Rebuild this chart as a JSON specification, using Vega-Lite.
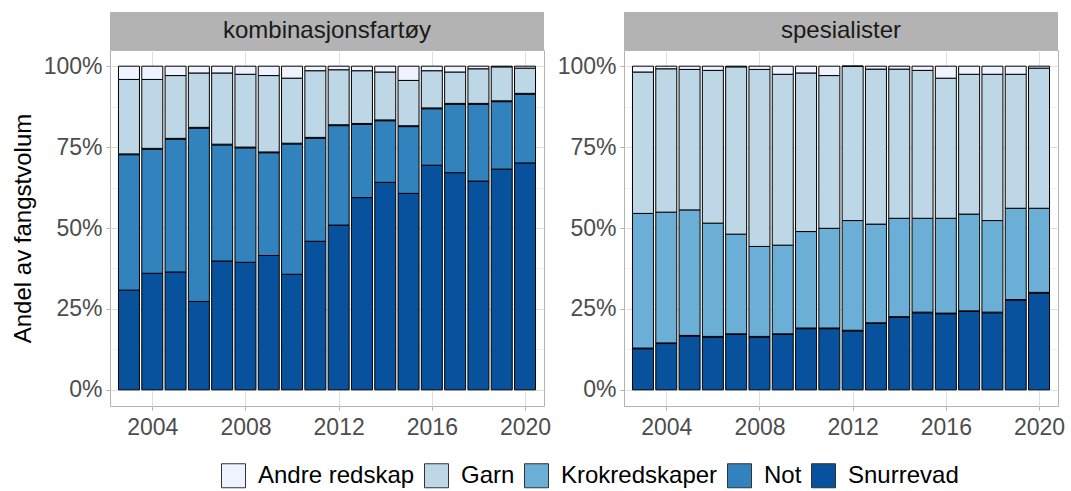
{
  "$schema": "https://vega.github.io/schema/vega-lite/v6.json",
  "padding": {"left": 10, "top": 12, "right": 14, "bottom": 2},
  "background": "white",
  "datasets": {
    "fangst": [
      {"panel":"kombinasjonsfartøy","aar":2003,"redskap":"Snurrevad","andel":30.8},{"panel":"kombinasjonsfartøy","aar":2003,"redskap":"Krokredskaper","andel":0.3},{"panel":"kombinasjonsfartøy","aar":2003,"redskap":"Not","andel":41.8},{"panel":"kombinasjonsfartøy","aar":2003,"redskap":"Garn","andel":23.0},{"panel":"kombinasjonsfartøy","aar":2003,"redskap":"Andre redskap","andel":4.1},
      {"panel":"kombinasjonsfartøy","aar":2004,"redskap":"Snurrevad","andel":36.0},{"panel":"kombinasjonsfartøy","aar":2004,"redskap":"Krokredskaper","andel":0.3},{"panel":"kombinasjonsfartøy","aar":2004,"redskap":"Not","andel":38.3},{"panel":"kombinasjonsfartøy","aar":2004,"redskap":"Garn","andel":21.3},{"panel":"kombinasjonsfartøy","aar":2004,"redskap":"Andre redskap","andel":4.1},
      {"panel":"kombinasjonsfartøy","aar":2005,"redskap":"Snurrevad","andel":36.4},{"panel":"kombinasjonsfartøy","aar":2005,"redskap":"Krokredskaper","andel":0.3},{"panel":"kombinasjonsfartøy","aar":2005,"redskap":"Not","andel":41.0},{"panel":"kombinasjonsfartøy","aar":2005,"redskap":"Garn","andel":19.4},{"panel":"kombinasjonsfartøy","aar":2005,"redskap":"Andre redskap","andel":2.9},
      {"panel":"kombinasjonsfartøy","aar":2006,"redskap":"Snurrevad","andel":27.3},{"panel":"kombinasjonsfartøy","aar":2006,"redskap":"Krokredskaper","andel":0.3},{"panel":"kombinasjonsfartøy","aar":2006,"redskap":"Not","andel":53.5},{"panel":"kombinasjonsfartøy","aar":2006,"redskap":"Garn","andel":16.8},{"panel":"kombinasjonsfartøy","aar":2006,"redskap":"Andre redskap","andel":2.1},
      {"panel":"kombinasjonsfartøy","aar":2007,"redskap":"Snurrevad","andel":39.8},{"panel":"kombinasjonsfartøy","aar":2007,"redskap":"Krokredskaper","andel":0.3},{"panel":"kombinasjonsfartøy","aar":2007,"redskap":"Not","andel":35.8},{"panel":"kombinasjonsfartøy","aar":2007,"redskap":"Garn","andel":22.0},{"panel":"kombinasjonsfartøy","aar":2007,"redskap":"Andre redskap","andel":2.1},
      {"panel":"kombinasjonsfartøy","aar":2008,"redskap":"Snurrevad","andel":39.4},{"panel":"kombinasjonsfartøy","aar":2008,"redskap":"Krokredskaper","andel":0.3},{"panel":"kombinasjonsfartøy","aar":2008,"redskap":"Not","andel":35.3},{"panel":"kombinasjonsfartøy","aar":2008,"redskap":"Garn","andel":22.5},{"panel":"kombinasjonsfartøy","aar":2008,"redskap":"Andre redskap","andel":2.5},
      {"panel":"kombinasjonsfartøy","aar":2009,"redskap":"Snurrevad","andel":41.5},{"panel":"kombinasjonsfartøy","aar":2009,"redskap":"Krokredskaper","andel":0.3},{"panel":"kombinasjonsfartøy","aar":2009,"redskap":"Not","andel":31.7},{"panel":"kombinasjonsfartøy","aar":2009,"redskap":"Garn","andel":23.6},{"panel":"kombinasjonsfartøy","aar":2009,"redskap":"Andre redskap","andel":2.9},
      {"panel":"kombinasjonsfartøy","aar":2010,"redskap":"Snurrevad","andel":35.7},{"panel":"kombinasjonsfartøy","aar":2010,"redskap":"Krokredskaper","andel":0.3},{"panel":"kombinasjonsfartøy","aar":2010,"redskap":"Not","andel":40.2},{"panel":"kombinasjonsfartøy","aar":2010,"redskap":"Garn","andel":20.1},{"panel":"kombinasjonsfartøy","aar":2010,"redskap":"Andre redskap","andel":3.7},
      {"panel":"kombinasjonsfartøy","aar":2011,"redskap":"Snurrevad","andel":45.9},{"panel":"kombinasjonsfartøy","aar":2011,"redskap":"Krokredskaper","andel":0.3},{"panel":"kombinasjonsfartøy","aar":2011,"redskap":"Not","andel":31.8},{"panel":"kombinasjonsfartøy","aar":2011,"redskap":"Garn","andel":20.6},{"panel":"kombinasjonsfartøy","aar":2011,"redskap":"Andre redskap","andel":1.4},
      {"panel":"kombinasjonsfartøy","aar":2012,"redskap":"Snurrevad","andel":50.9},{"panel":"kombinasjonsfartøy","aar":2012,"redskap":"Krokredskaper","andel":0.3},{"panel":"kombinasjonsfartøy","aar":2012,"redskap":"Not","andel":30.7},{"panel":"kombinasjonsfartøy","aar":2012,"redskap":"Garn","andel":17.0},{"panel":"kombinasjonsfartøy","aar":2012,"redskap":"Andre redskap","andel":1.1},
      {"panel":"kombinasjonsfartøy","aar":2013,"redskap":"Snurrevad","andel":59.4},{"panel":"kombinasjonsfartøy","aar":2013,"redskap":"Krokredskaper","andel":0.3},{"panel":"kombinasjonsfartøy","aar":2013,"redskap":"Not","andel":22.6},{"panel":"kombinasjonsfartøy","aar":2013,"redskap":"Garn","andel":16.3},{"panel":"kombinasjonsfartøy","aar":2013,"redskap":"Andre redskap","andel":1.4},
      {"panel":"kombinasjonsfartøy","aar":2014,"redskap":"Snurrevad","andel":64.1},{"panel":"kombinasjonsfartøy","aar":2014,"redskap":"Krokredskaper","andel":0.3},{"panel":"kombinasjonsfartøy","aar":2014,"redskap":"Not","andel":19.0},{"panel":"kombinasjonsfartøy","aar":2014,"redskap":"Garn","andel":14.8},{"panel":"kombinasjonsfartøy","aar":2014,"redskap":"Andre redskap","andel":1.8},
      {"panel":"kombinasjonsfartøy","aar":2015,"redskap":"Snurrevad","andel":60.7},{"panel":"kombinasjonsfartøy","aar":2015,"redskap":"Krokredskaper","andel":0.3},{"panel":"kombinasjonsfartøy","aar":2015,"redskap":"Not","andel":20.6},{"panel":"kombinasjonsfartøy","aar":2015,"redskap":"Garn","andel":14.0},{"panel":"kombinasjonsfartøy","aar":2015,"redskap":"Andre redskap","andel":4.4},
      {"panel":"kombinasjonsfartøy","aar":2016,"redskap":"Snurrevad","andel":69.4},{"panel":"kombinasjonsfartøy","aar":2016,"redskap":"Krokredskaper","andel":0.3},{"panel":"kombinasjonsfartøy","aar":2016,"redskap":"Not","andel":17.4},{"panel":"kombinasjonsfartøy","aar":2016,"redskap":"Garn","andel":11.5},{"panel":"kombinasjonsfartøy","aar":2016,"redskap":"Andre redskap","andel":1.4},
      {"panel":"kombinasjonsfartøy","aar":2017,"redskap":"Snurrevad","andel":67.1},{"panel":"kombinasjonsfartøy","aar":2017,"redskap":"Krokredskaper","andel":0.3},{"panel":"kombinasjonsfartøy","aar":2017,"redskap":"Not","andel":21.1},{"panel":"kombinasjonsfartøy","aar":2017,"redskap":"Garn","andel":9.7},{"panel":"kombinasjonsfartøy","aar":2017,"redskap":"Andre redskap","andel":1.8},
      {"panel":"kombinasjonsfartøy","aar":2018,"redskap":"Snurrevad","andel":64.5},{"panel":"kombinasjonsfartøy","aar":2018,"redskap":"Krokredskaper","andel":0.3},{"panel":"kombinasjonsfartøy","aar":2018,"redskap":"Not","andel":23.7},{"panel":"kombinasjonsfartøy","aar":2018,"redskap":"Garn","andel":10.7},{"panel":"kombinasjonsfartøy","aar":2018,"redskap":"Andre redskap","andel":0.8},
      {"panel":"kombinasjonsfartøy","aar":2019,"redskap":"Snurrevad","andel":68.2},{"panel":"kombinasjonsfartøy","aar":2019,"redskap":"Krokredskaper","andel":0.3},{"panel":"kombinasjonsfartøy","aar":2019,"redskap":"Not","andel":20.8},{"panel":"kombinasjonsfartøy","aar":2019,"redskap":"Garn","andel":10.5},{"panel":"kombinasjonsfartøy","aar":2019,"redskap":"Andre redskap","andel":0.2},
      {"panel":"kombinasjonsfartøy","aar":2020,"redskap":"Snurrevad","andel":70.1},{"panel":"kombinasjonsfartøy","aar":2020,"redskap":"Krokredskaper","andel":0.3},{"panel":"kombinasjonsfartøy","aar":2020,"redskap":"Not","andel":21.2},{"panel":"kombinasjonsfartøy","aar":2020,"redskap":"Garn","andel":7.8},{"panel":"kombinasjonsfartøy","aar":2020,"redskap":"Andre redskap","andel":0.6},
      {"panel":"spesialister","aar":2003,"redskap":"Snurrevad","andel":12.7},{"panel":"spesialister","aar":2003,"redskap":"Not","andel":0.2},{"panel":"spesialister","aar":2003,"redskap":"Krokredskaper","andel":41.6},{"panel":"spesialister","aar":2003,"redskap":"Garn","andel":43.7},{"panel":"spesialister","aar":2003,"redskap":"Andre redskap","andel":1.8},
      {"panel":"spesialister","aar":2004,"redskap":"Snurrevad","andel":14.3},{"panel":"spesialister","aar":2004,"redskap":"Not","andel":0.2},{"panel":"spesialister","aar":2004,"redskap":"Krokredskaper","andel":40.4},{"panel":"spesialister","aar":2004,"redskap":"Garn","andel":44.3},{"panel":"spesialister","aar":2004,"redskap":"Andre redskap","andel":0.8},
      {"panel":"spesialister","aar":2005,"redskap":"Snurrevad","andel":16.6},{"panel":"spesialister","aar":2005,"redskap":"Not","andel":0.2},{"panel":"spesialister","aar":2005,"redskap":"Krokredskaper","andel":38.8},{"panel":"spesialister","aar":2005,"redskap":"Garn","andel":43.4},{"panel":"spesialister","aar":2005,"redskap":"Andre redskap","andel":1.0},
      {"panel":"spesialister","aar":2006,"redskap":"Snurrevad","andel":16.3},{"panel":"spesialister","aar":2006,"redskap":"Not","andel":0.2},{"panel":"spesialister","aar":2006,"redskap":"Krokredskaper","andel":35.0},{"panel":"spesialister","aar":2006,"redskap":"Garn","andel":47.2},{"panel":"spesialister","aar":2006,"redskap":"Andre redskap","andel":1.3},
      {"panel":"spesialister","aar":2007,"redskap":"Snurrevad","andel":17.1},{"panel":"spesialister","aar":2007,"redskap":"Not","andel":0.2},{"panel":"spesialister","aar":2007,"redskap":"Krokredskaper","andel":30.8},{"panel":"spesialister","aar":2007,"redskap":"Garn","andel":51.7},{"panel":"spesialister","aar":2007,"redskap":"Andre redskap","andel":0.2},
      {"panel":"spesialister","aar":2008,"redskap":"Snurrevad","andel":16.3},{"panel":"spesialister","aar":2008,"redskap":"Not","andel":0.2},{"panel":"spesialister","aar":2008,"redskap":"Krokredskaper","andel":27.8},{"panel":"spesialister","aar":2008,"redskap":"Garn","andel":54.7},{"panel":"spesialister","aar":2008,"redskap":"Andre redskap","andel":1.0},
      {"panel":"spesialister","aar":2009,"redskap":"Snurrevad","andel":17.1},{"panel":"spesialister","aar":2009,"redskap":"Not","andel":0.2},{"panel":"spesialister","aar":2009,"redskap":"Krokredskaper","andel":27.4},{"panel":"spesialister","aar":2009,"redskap":"Garn","andel":52.8},{"panel":"spesialister","aar":2009,"redskap":"Andre redskap","andel":2.5},
      {"panel":"spesialister","aar":2010,"redskap":"Snurrevad","andel":18.9},{"panel":"spesialister","aar":2010,"redskap":"Not","andel":0.2},{"panel":"spesialister","aar":2010,"redskap":"Krokredskaper","andel":29.8},{"panel":"spesialister","aar":2010,"redskap":"Garn","andel":49.0},{"panel":"spesialister","aar":2010,"redskap":"Andre redskap","andel":2.1},
      {"panel":"spesialister","aar":2011,"redskap":"Snurrevad","andel":18.9},{"panel":"spesialister","aar":2011,"redskap":"Not","andel":0.2},{"panel":"spesialister","aar":2011,"redskap":"Krokredskaper","andel":30.8},{"panel":"spesialister","aar":2011,"redskap":"Garn","andel":47.2},{"panel":"spesialister","aar":2011,"redskap":"Andre redskap","andel":2.9},
      {"panel":"spesialister","aar":2012,"redskap":"Snurrevad","andel":18.2},{"panel":"spesialister","aar":2012,"redskap":"Not","andel":0.2},{"panel":"spesialister","aar":2012,"redskap":"Krokredskaper","andel":33.9},{"panel":"spesialister","aar":2012,"redskap":"Garn","andel":47.7},{"panel":"spesialister","aar":2012,"redskap":"Andre redskap","andel":0.0},
      {"panel":"spesialister","aar":2013,"redskap":"Snurrevad","andel":20.5},{"panel":"spesialister","aar":2013,"redskap":"Not","andel":0.2},{"panel":"spesialister","aar":2013,"redskap":"Krokredskaper","andel":30.5},{"panel":"spesialister","aar":2013,"redskap":"Garn","andel":47.9},{"panel":"spesialister","aar":2013,"redskap":"Andre redskap","andel":0.9},
      {"panel":"spesialister","aar":2014,"redskap":"Snurrevad","andel":22.4},{"panel":"spesialister","aar":2014,"redskap":"Not","andel":0.2},{"panel":"spesialister","aar":2014,"redskap":"Krokredskaper","andel":30.4},{"panel":"spesialister","aar":2014,"redskap":"Garn","andel":46.1},{"panel":"spesialister","aar":2014,"redskap":"Andre redskap","andel":0.9},
      {"panel":"spesialister","aar":2015,"redskap":"Snurrevad","andel":23.8},{"panel":"spesialister","aar":2015,"redskap":"Not","andel":0.2},{"panel":"spesialister","aar":2015,"redskap":"Krokredskaper","andel":29.0},{"panel":"spesialister","aar":2015,"redskap":"Garn","andel":45.7},{"panel":"spesialister","aar":2015,"redskap":"Andre redskap","andel":1.3},
      {"panel":"spesialister","aar":2016,"redskap":"Snurrevad","andel":23.5},{"panel":"spesialister","aar":2016,"redskap":"Not","andel":0.2},{"panel":"spesialister","aar":2016,"redskap":"Krokredskaper","andel":29.3},{"panel":"spesialister","aar":2016,"redskap":"Garn","andel":43.3},{"panel":"spesialister","aar":2016,"redskap":"Andre redskap","andel":3.7},
      {"panel":"spesialister","aar":2017,"redskap":"Snurrevad","andel":24.2},{"panel":"spesialister","aar":2017,"redskap":"Not","andel":0.2},{"panel":"spesialister","aar":2017,"redskap":"Krokredskaper","andel":29.9},{"panel":"spesialister","aar":2017,"redskap":"Garn","andel":43.2},{"panel":"spesialister","aar":2017,"redskap":"Andre redskap","andel":2.5},
      {"panel":"spesialister","aar":2018,"redskap":"Snurrevad","andel":23.8},{"panel":"spesialister","aar":2018,"redskap":"Not","andel":0.2},{"panel":"spesialister","aar":2018,"redskap":"Krokredskaper","andel":28.3},{"panel":"spesialister","aar":2018,"redskap":"Garn","andel":45.2},{"panel":"spesialister","aar":2018,"redskap":"Andre redskap","andel":2.5},
      {"panel":"spesialister","aar":2019,"redskap":"Snurrevad","andel":27.7},{"panel":"spesialister","aar":2019,"redskap":"Not","andel":0.2},{"panel":"spesialister","aar":2019,"redskap":"Krokredskaper","andel":28.2},{"panel":"spesialister","aar":2019,"redskap":"Garn","andel":41.4},{"panel":"spesialister","aar":2019,"redskap":"Andre redskap","andel":2.5},
      {"panel":"spesialister","aar":2020,"redskap":"Snurrevad","andel":29.9},{"panel":"spesialister","aar":2020,"redskap":"Not","andel":0.2},{"panel":"spesialister","aar":2020,"redskap":"Krokredskaper","andel":26.0},{"panel":"spesialister","aar":2020,"redskap":"Garn","andel":43.3},{"panel":"spesialister","aar":2020,"redskap":"Andre redskap","andel":0.6}
    ]
  },
  "columns": 2,
  "bounds": "flush",
  "spacing": {"row": 0, "column": 80},
  "concat": [
    {
      "data": {"name": "fangst"},
      "transform": [{"filter": "datum.panel === 'kombinasjonsfartøy'"}, {"aggregate": [], "groupby": ["panel"]}],
      "width": 434, "height": 38,
      "view": {"fill": "#B3B3B3", "stroke": null},
      "mark": {"type": "text", "fontSize": 24, "color": "#1A1A1A"},
      "encoding": {"text": {"field": "panel"}}
    },
    {
      "data": {"name": "fangst"},
      "transform": [{"filter": "datum.panel === 'spesialister'"}, {"aggregate": [], "groupby": ["panel"]}],
      "width": 434, "height": 38,
      "view": {"fill": "#B3B3B3", "stroke": null},
      "mark": {"type": "text", "fontSize": 24, "color": "#1A1A1A"},
      "encoding": {"text": {"field": "panel"}}
    },
    {
      "data": {"name": "fangst"},
      "transform": [{"filter": "datum.panel === 'kombinasjonsfartøy'"}],
      "width": 434, "height": 356,
      "mark": {"type": "bar", "size": 21, "stroke": "#000000", "strokeWidth": 1},
      "encoding": {
        "x": {"field": "aar", "type": "quantitative", "title": null,
              "scale": {"domain": [2002.4, 2020.6], "nice": false, "zero": false},
              "axis": {"values": [2004, 2008, 2012, 2016, 2020], "format": "d"}},
        "y": {"field": "andel", "type": "quantitative", "stack": "normalize", "title": "Andel av fangstvolum",
              "scale": {"domain": [-0.05, 1.05], "nice": false, "zero": false},
              "axis": {"values": [0, 0.125, 0.25, 0.375, 0.5, 0.625, 0.75, 0.875, 1], "format": ".0%",
                       "labelExpr": "datum.value % 0.25 == 0 ? datum.label : ''",
                       "tickOpacity": {"condition": {"test": "datum.value % 0.25 != 0", "value": 0}, "value": 1},
                       "gridWidth": {"condition": {"test": "datum.value % 0.25 != 0", "value": 0.5}, "value": 1}}},
        "color": {"field": "redskap", "type": "nominal", "title": null,
                  "scale": {"domain": ["Andre redskap", "Garn", "Krokredskaper", "Not", "Snurrevad"],
                            "range": ["#EFF3FF", "#BDD7E7", "#6BAED6", "#3182BD", "#08519C"]},
                  "legend": {"orient": "none", "direction": "horizontal", "legendX": 111, "legendY": 451}},
        "order": {"field": "redskap", "sort": "descending"}
      }
    },
    {
      "data": {"name": "fangst"},
      "transform": [{"filter": "datum.panel === 'spesialister'"}],
      "width": 434, "height": 356,
      "mark": {"type": "bar", "size": 21, "stroke": "#000000", "strokeWidth": 1},
      "encoding": {
        "x": {"field": "aar", "type": "quantitative", "title": null,
              "scale": {"domain": [2002.4, 2020.6], "nice": false, "zero": false},
              "axis": {"values": [2004, 2008, 2012, 2016, 2020], "format": "d"}},
        "y": {"field": "andel", "type": "quantitative", "stack": "normalize", "title": null,
              "scale": {"domain": [-0.05, 1.05], "nice": false, "zero": false},
              "axis": {"values": [0, 0.125, 0.25, 0.375, 0.5, 0.625, 0.75, 0.875, 1], "format": ".0%",
                       "labelExpr": "datum.value % 0.25 == 0 ? datum.label : ''",
                       "tickOpacity": {"condition": {"test": "datum.value % 0.25 != 0", "value": 0}, "value": 1},
                       "gridWidth": {"condition": {"test": "datum.value % 0.25 != 0", "value": 0.5}, "value": 1}}},
        "color": {"field": "redskap", "type": "nominal", "title": null,
                  "scale": {"domain": ["Andre redskap", "Garn", "Krokredskaper", "Not", "Snurrevad"],
                            "range": ["#EFF3FF", "#BDD7E7", "#6BAED6", "#3182BD", "#08519C"]},
                  "legend": {"orient": "none", "direction": "horizontal", "legendX": 111, "legendY": 451}},
        "order": {"field": "redskap", "sort": "descending"}
      }
    }
  ],
  "resolve": {"scale": {"color": "shared", "x": "independent", "y": "independent"}},
  "config": {
    "font": "Liberation Sans",
    "view": {"stroke": "#B3B3B3", "strokeWidth": 1},
    "axis": {
      "labelFontSize": 23, "labelColor": "#4D4D4D", "labelFont": "Liberation Sans",
      "tickColor": "#B3B3B3", "tickSize": 4, "labelPadding": 4,
      "domain": false, "gridColor": "#DEDEDE",
      "titleFontSize": 24, "titleFontWeight": "normal", "titleColor": "#000000", "titlePadding": 8
    },
    "axisX": {"labelPadding": 6},
    "legend": {
      "symbolType": "square", "symbolSize": 576, "symbolStrokeColor": "#333333", "symbolStrokeWidth": 1,
      "symbolOpacity": 1,
      "labelFontSize": 24, "labelColor": "#000000", "labelOffset": 12, "columnPadding": 7
    }
  }
}
